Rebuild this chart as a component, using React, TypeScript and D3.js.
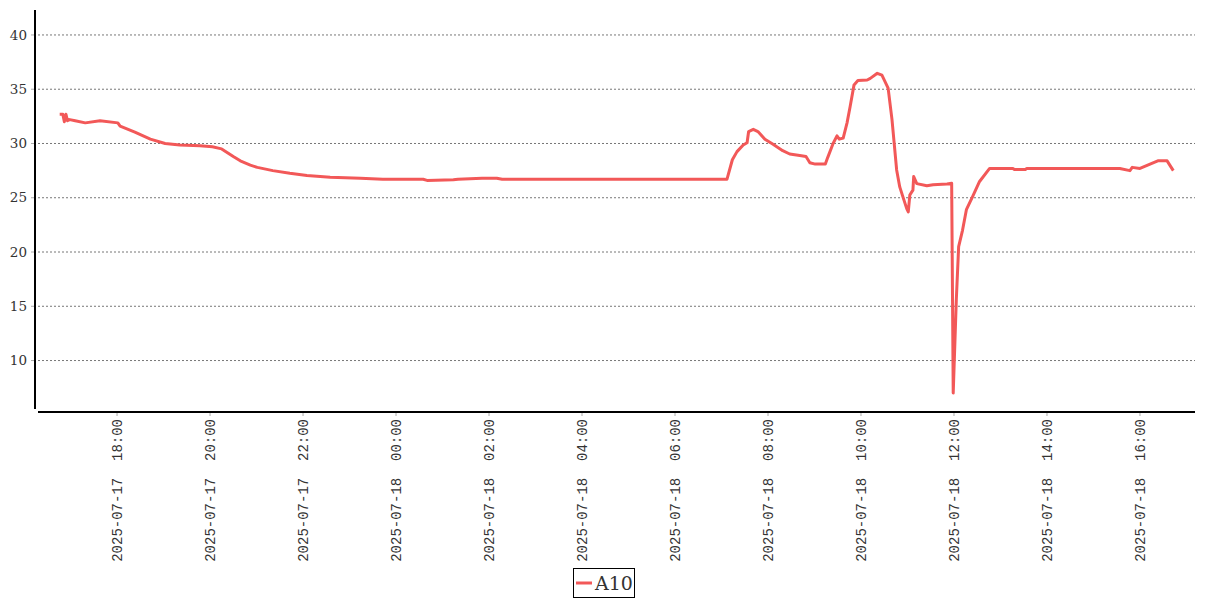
import React from "react";
import * as d3 from "d3";

const seriesName = "A10";
const times: string[] = [
  "2025-07-17 16:46","2025-07-17 16:50","2025-07-17 16:52","2025-07-17 16:54","2025-07-17 16:56",
  "2025-07-17 16:59","2025-07-17 17:06","2025-07-17 17:19","2025-07-17 17:38","2025-07-17 18:01",
  "2025-07-17 18:04","2025-07-17 18:23","2025-07-17 18:43","2025-07-17 19:02","2025-07-17 19:21",
  "2025-07-17 19:47","2025-07-17 20:03","2025-07-17 20:15","2025-07-17 20:30","2025-07-17 20:39",
  "2025-07-17 20:52","2025-07-17 21:01","2025-07-17 21:21","2025-07-17 21:43","2025-07-17 22:05",
  "2025-07-17 22:35","2025-07-17 23:14","2025-07-17 23:43","2025-07-18 00:35","2025-07-18 00:40",
  "2025-07-18 01:14","2025-07-18 01:20","2025-07-18 01:51","2025-07-18 02:10","2025-07-18 02:17",
  "2025-07-18 07:07","2025-07-18 07:08","2025-07-18 07:14","2025-07-18 07:20","2025-07-18 07:28",
  "2025-07-18 07:33","2025-07-18 07:35","2025-07-18 07:41","2025-07-18 07:47","2025-07-18 07:56",
  "2025-07-18 08:06","2025-07-18 08:19","2025-07-18 08:28","2025-07-18 08:41","2025-07-18 08:49",
  "2025-07-18 08:54","2025-07-18 09:01","2025-07-18 09:14","2025-07-18 09:17","2025-07-18 09:24",
  "2025-07-18 09:29","2025-07-18 09:32","2025-07-18 09:37","2025-07-18 09:42","2025-07-18 09:46",
  "2025-07-18 09:51","2025-07-18 09:56","2025-07-18 10:08","2025-07-18 10:12","2025-07-18 10:21",
  "2025-07-18 10:27","2025-07-18 10:35","2025-07-18 10:40","2025-07-18 10:46","2025-07-18 10:50",
  "2025-07-18 10:54","2025-07-18 10:59","2025-07-18 11:01","2025-07-18 11:03","2025-07-18 11:07",
  "2025-07-18 11:08","2025-07-18 11:12","2025-07-18 11:25","2025-07-18 11:33","2025-07-18 11:51",
  "2025-07-18 11:57","2025-07-18 11:59","2025-07-18 12:03","2025-07-18 12:06","2025-07-18 12:11",
  "2025-07-18 12:16","2025-07-18 12:24","2025-07-18 12:33","2025-07-18 12:46","2025-07-18 13:16",
  "2025-07-18 13:18","2025-07-18 13:32","2025-07-18 13:34","2025-07-18 15:34","2025-07-18 15:47",
  "2025-07-18 15:50","2025-07-18 16:00","2025-07-18 16:13","2025-07-18 16:23","2025-07-18 16:35",
  "2025-07-18 16:43",
];
const values: number[] = [
  32.7, 32.7, 32.0, 32.7, 32.1,
  32.2, 32.1, 31.9, 32.1, 31.9,
  31.6, 31.05, 30.4, 30.0, 29.85,
  29.8, 29.7, 29.5, 28.8, 28.4,
  28.0, 27.8, 27.5, 27.25, 27.05,
  26.9, 26.8, 26.7, 26.7, 26.6,
  26.65, 26.7, 26.8, 26.8, 26.7,
  26.7, 26.95, 28.5, 29.25, 29.86,
  30.07, 31.1, 31.3, 31.1, 30.4,
  29.95, 29.34, 29.03, 28.9, 28.8,
  28.23, 28.1, 28.1, 28.7, 30.0,
  30.7, 30.4, 30.5, 31.9, 33.4,
  35.4, 35.8, 35.85, 36.0, 36.47,
  36.3, 35.1, 32.2, 27.56, 26.0,
  25.1, 24.0, 23.7, 25.25, 25.7,
  26.95, 26.3, 26.1, 26.2, 26.27,
  26.33, 7.0, 15.6, 20.5, 22.0,
  23.9, 25.1, 26.5, 27.7, 27.7,
  27.6, 27.6, 27.7, 27.7, 27.5,
  27.8, 27.7, 28.1, 28.4, 28.4,
  27.5,
];
const yTicks: number[] = [10, 15, 20, 25, 30, 35, 40];
const xTickLabels: string[] = [
  "2025-07-17 18:00","2025-07-17 20:00","2025-07-17 22:00","2025-07-18 00:00",
  "2025-07-18 02:00","2025-07-18 04:00","2025-07-18 06:00","2025-07-18 08:00",
  "2025-07-18 10:00","2025-07-18 12:00","2025-07-18 14:00","2025-07-18 16:00",
];
const xDomain: string[] = ["2025-07-17 16:18", "2025-07-18 17:11"];
const yDomain: number[] = [5.35, 42.3];

const parse = d3.timeParse("%Y-%m-%d %H:%M");
const W = 1207, H = 600;
const LINE = "#f25858";

export default function App() {
  const x = d3.scaleTime()
    .domain([parse(xDomain[0])!, parse(xDomain[1])!])
    .range([38, 1195]);
  const y = d3.scaleLinear().domain(yDomain).range([411, 10]);
  const data = times.map((t, i) => ({ t: parse(t)!, v: values[i] }));
  const line = d3.line<{ t: Date; v: number }>()
    .x((d) => x(d.t))
    .y((d) => y(d.v));
  const tickFont = "'Liberation Mono', monospace";
  const yFont = "'DejaVu Serif', serif";
  return (
    <svg width={W} height={H} style={{ position: "absolute", left: 0, top: 0, background: "#fff" }}>
      {yTicks.map((t) => (
        <g key={t}>
          <line x1={38} x2={1195} y1={y(t)} y2={y(t)} stroke="#777" strokeWidth={1} strokeDasharray="2,2" />
          <line x1={31} x2={35} y1={y(t)} y2={y(t)} stroke="#aaa" strokeWidth={1} />
          <text x={27} y={y(t)} dy="0.35em" textAnchor="end" fontFamily={yFont} fontSize={13.5} fill="#333">{t}</text>
        </g>
      ))}
      <line x1={35} x2={35} y1={10} y2={409} stroke="#000" strokeWidth={2} />
      <line x1={38} x2={1195} y1={412} y2={412} stroke="#000" strokeWidth={2} />
      {xTickLabels.map((s) => {
        const xp = x(parse(s)!);
        const label = s.replace(" ", "  ");
        return (
          <g key={s}>
            <line x1={xp} x2={xp} y1={413} y2={416} stroke="#aaa" strokeWidth={1} />
            <text
              transform={`translate(${xp},419) rotate(-90)`}
              dy="0.35em"
              textAnchor="end"
              fontFamily={tickFont}
              fontSize={14}
              fill="#333"
              style={{ whiteSpace: "pre" }}
            >{label}</text>
          </g>
        );
      })}
      <path d={line(data) ?? ""} fill="none" stroke={LINE} strokeWidth={3} strokeLinejoin="round" />
      <g>
        <rect x={573.5} y={568.5} width={61} height={29} fill="#fff" stroke="#000" strokeWidth={1} />
        <line x1={576} x2={592} y1={583} y2={583} stroke={LINE} strokeWidth={3} />
        <text x={595} y={583} dy="0.35em" fontFamily={yFont} fontSize={19} fill="#333">{seriesName}</text>
      </g>
    </svg>
  );
}
